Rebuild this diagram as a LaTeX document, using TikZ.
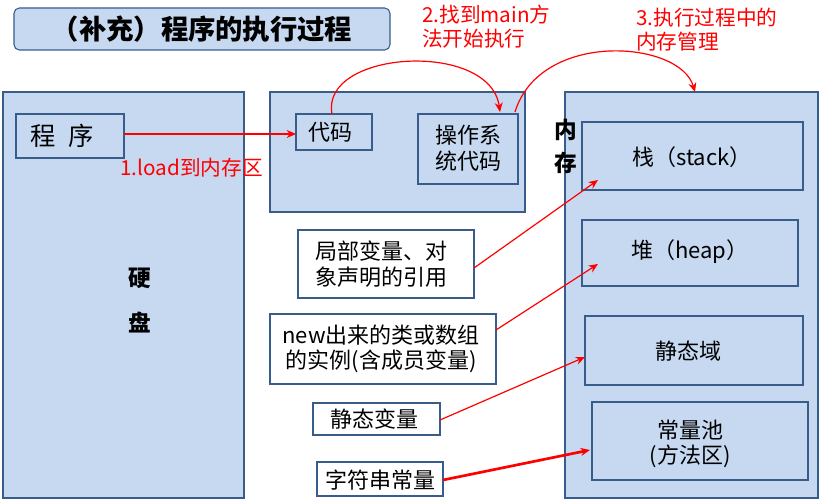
\documentclass[tikz,border=0pt]{standalone}
\usepackage{fontspec}
\setmainfont{Noto Sans CJK SC}
\usetikzlibrary{arrows.meta}
\definecolor{bfill}{HTML}{C6D9F1}
\definecolor{bline}{HTML}{385D8A}
\tikzset{x=0.75pt,y=-0.75pt,
 big/.style={draw=bline,fill=bfill,line width=0.8pt},
 wbox/.style={draw=bline,fill=white,line width=0.8pt},
 ra/.style={draw=red,line width=0.9pt,-{Stealth[length=7pt,width=6pt]}},
 lbl/.style={font=\fontsize{16.5}{19}\selectfont,align=center},
 rl/.style={text=red,font=\fontsize{15.5}{18}\selectfont,align=left,anchor=north west,inner sep=0pt}}
\begin{document}
\begin{tikzpicture}
\useasboundingbox[fill=white] (0,0) rectangle (822,503);
\draw[big,rounded corners=4pt] (14,8) rectangle (390,50);
\node[font=\fontsize{20.5}{24}\selectfont\bfseries] (title) at (202,29) {（补充）程序的执行过程};
% disk
\draw[big] (3,92) rectangle (244,498);
\node[font=\fontsize{17}{19}\selectfont\bfseries] (y) at (140,278) {硬};
\node[font=\fontsize{17}{19}\selectfont\bfseries] (p) at (140,322) {盘};
\draw[big] (16,114) rectangle (124,158);
\node[font=\fontsize{19}{22}\selectfont] (prog) at (62,136) {程\enspace 序};
\coordinate (progE) at (124,134);
% code area
\draw[big] (270,92) rectangle (525,212);
\draw[big] (296,114) rectangle (372,150);
\node[lbl] (code) at (330,132) {代码};
\draw[big] (418,114) rectangle (518,184);
\node[lbl] (os) at (468,148) {操作系\\统代码};
\coordinate (codeW) at (296,134);
\draw[ra] (progE) -- (codeW);
\node[rl] (l1) at (120,158) {1.load到内存区};
\coordinate (codeN) at (332,114);
\coordinate (osN) at (500,112);
\draw[ra] (codeN) .. controls (320,50) and (490,40) .. (osN);
\node[rl] (l2) at (422,5) {2.找到main方\\法开始执行};
% memory
\draw[big] (565,92) rectangle (818,498);
\node[font=\fontsize{17}{19}\selectfont\bfseries] (n) at (566,130) {内};
\node[font=\fontsize{17}{19}\selectfont\bfseries] (c) at (566,163) {存};
\coordinate (osNE) at (515,112);
\coordinate (memN) at (695,92);
\draw[ra] (osNE) .. controls (540,30) and (680,40) .. (memN);
\node[rl] (l3) at (636,8) {3.执行过程中的\\内存管理};
\draw[big] (582,122) rectangle (803,190); \node[lbl] (stack) at (692,157) {栈（stack）};
\draw[big] (582,220) rectangle (798,286); \node[lbl] (heap) at (690,252) {堆（heap）};
\draw[big] (585,316) rectangle (803,385); \node[lbl] (sf) at (688,351) {静态域};
\draw[big] (592,402) rectangle (808,480); \node[lbl] (cp) at (690,444) {常量池\\(方法区)};
% left boxes
\draw[wbox] (298,230) rectangle (474,298); \node[lbl] (a) at (381,264) {局部变量、对\\象声明的引用};
\draw[wbox] (270,314) rectangle (496,384); \node[lbl] (b) at (381,349) {new出来的类或数组\\的实例(含成员变量)};
\draw[wbox] (313,403) rectangle (440,435); \node[lbl] (s) at (374,419) {静态变量};
\draw[wbox] (317,462) rectangle (443,496); \node[lbl] (z) at (380,480) {字符串常量};
\coordinate (aE) at (474,268); \coordinate (stackT) at (598,180);
\coordinate (bE) at (496,330); \coordinate (heapT) at (598,264);
\coordinate (sE) at (440,420); \coordinate (sfT) at (585,357);
\coordinate (zE) at (443,480); \coordinate (cpT) at (590,450);
\draw[ra] (aE) -- (stackT);
\draw[ra] (bE) -- (heapT);
\draw[ra] (sE) -- (sfT);
\draw[ra,line width=2pt] (zE) -- (cpT);
\end{tikzpicture}
\end{document}
